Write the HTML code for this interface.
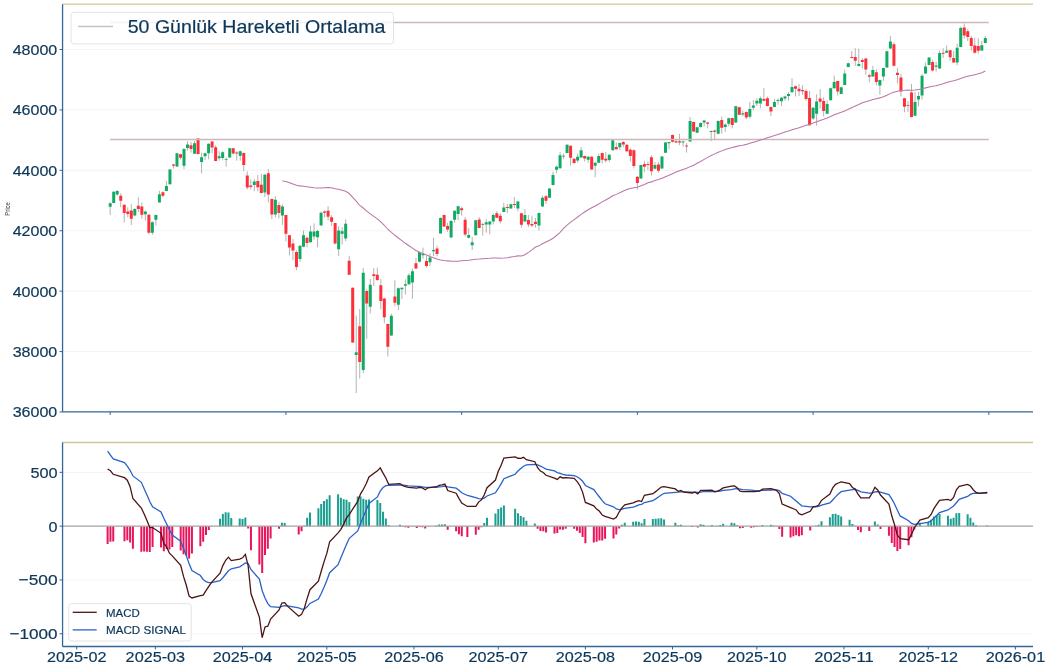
<!DOCTYPE html><html><head><meta charset="utf-8"><style>html,body{margin:0;padding:0;background:#fff;}svg{display:block;will-change:transform;}text{font-family:"Liberation Sans",sans-serif;stroke:#0d3759;stroke-width:0.2px;}</style></head><body>
<svg width="1050" height="669" viewBox="0 0 1050 669">
<rect x="0" y="0" width="1050" height="669" fill="#fff"/>
<line x1="62.56" x2="1033.0" y1="351.55" y2="351.55" stroke="#f0f0f0" stroke-width="0.8"/>
<line x1="62.56" x2="1033.0" y1="291.14" y2="291.14" stroke="#f0f0f0" stroke-width="0.8"/>
<line x1="62.56" x2="1033.0" y1="230.73" y2="230.73" stroke="#f0f0f0" stroke-width="0.8"/>
<line x1="62.56" x2="1033.0" y1="170.32" y2="170.32" stroke="#f0f0f0" stroke-width="0.8"/>
<line x1="62.56" x2="1033.0" y1="109.91" y2="109.91" stroke="#f0f0f0" stroke-width="0.8"/>
<line x1="62.56" x2="1033.0" y1="49.50" y2="49.50" stroke="#f0f0f0" stroke-width="0.8"/>
<path d="M110.20 202.39V215.06M113.71 191.20V203.21M117.23 190.05V195.81M120.74 193.34V207.33M124.26 204.86V222.46M127.77 207.33V217.20M131.29 204.04V225.10M134.80 208.15V216.38M138.32 197.13V212.26M141.83 202.39V218.85M145.34 210.62V220.49M148.86 213.91V234.48M152.37 221.31V234.80M155.89 214.73V225.43M159.40 190.88V202.39M162.92 191.20V197.46M166.43 181.00V191.20M169.95 169.16V184.62M173.46 163.73V168.66M176.98 153.03V167.02M180.49 153.86V159.62M184.00 148.10V169.16M187.52 141.15V150.57M191.03 141.82V152.59M194.55 140.88V153.94M198.06 138.06V154.34M201.58 152.59V173.45M205.09 152.59V159.99M208.61 143.57V159.32M212.12 141.15V153.26M215.63 145.19V161.34M219.15 151.24V160.67M222.66 151.24V160.26M226.18 157.30V166.72M229.69 147.61V157.97M233.21 147.61V154.61M236.72 151.24V160.67M240.24 150.57V160.67M243.75 152.59V171.43M247.27 171.43V189.60M250.78 179.51V189.60M254.29 178.97V191.29M257.81 174.86V191.29M261.32 174.04V193.26M264.84 174.04V197.04M268.35 169.11V202.46M271.87 198.68V219.22M275.38 196.22V217.58M278.90 201.97V218.40M282.41 204.43V224.97M285.93 215.12V241.40M289.44 234.83V255.37M292.95 238.94V260.30M296.47 250.44V270.16M299.98 245.51V261.94M303.50 230.40V247.16M307.01 236.48V247.16M310.53 225.80V242.56M314.04 223.33V239.76M317.56 229.90V247.16M321.07 211.50V225.47M324.58 210.19V217.25M328.10 206.24V220.54M331.61 215.12V225.96M335.13 223.00V244.36M338.64 226.29V255.87M342.16 227.11V244.36M345.67 219.39V241.08M349.19 255.87V274.76M352.70 287.43V342.87M356.21 315.67V393.08M359.73 308.97V378.43M363.24 267.97V373.20M366.76 289.52V338.68M370.27 279.06V313.58M373.79 267.97V285.96M377.30 267.55V281.15M380.82 279.06V309.39M384.33 297.89V322.99M387.85 323.62V356.46M391.36 313.58V336.17M394.87 280.26V306.29M398.39 287.44V309.88M401.90 287.44V299.11M405.42 279.37V294.62M408.93 273.08V284.75M412.45 268.60V298.75M415.96 257.83V268.95M419.48 251.54V262.31M422.99 247.59V258.72M426.50 256.03V267.70M430.02 253.34V265.90M433.53 237.72V256.03M437.05 245.62V256.39M440.56 217.44V233.59M444.08 214.75V226.95M447.59 222.82V231.80M451.11 220.13V237.72M454.62 210.33V222.88M458.14 205.62V220.26M461.65 206.67V215.56M465.16 217.12V236.47M468.68 228.10V238.56M472.19 236.99V249.96M475.71 219.74V235.42M479.22 217.12V228.31M482.74 222.88V235.42M486.25 219.22V232.81M489.77 221.31V234.38M493.28 213.46V224.44M496.79 211.16V218.17M500.31 213.25V223.40M503.82 202.80V212.21M507.34 203.84V213.25M510.85 203.53V208.76M514.37 196.94V208.03M517.88 200.92V211.37M521.40 212.94V227.58M524.91 209.02V221.73M528.43 215.00V226.96M531.94 215.75V226.96M535.45 217.99V227.71M538.97 212.76V230.70M542.48 195.56V206.78M546.00 194.81V203.79M549.51 188.08V198.10M553.03 171.64V185.54M556.54 165.65V173.13M560.06 152.20V168.64M563.57 153.69V158.93M567.09 144.27V153.24M570.60 145.47V165.65M574.11 158.18V163.71M577.63 153.69V162.66M581.14 146.96V157.73M584.66 155.64V161.62M588.17 155.93V162.66M591.69 155.93V169.69M595.20 161.92V177.17M598.72 153.69V163.41M602.23 152.65V163.40M605.74 151.97V162.73M609.26 154.26V162.06M612.77 139.87V150.63M616.29 142.56V149.69M619.80 142.56V150.23M623.32 141.22V147.27M626.83 143.91V152.38M630.35 148.34V161.39M633.86 149.29V168.51M637.38 176.18V189.62M640.89 164.75V178.87M644.40 160.71V172.14M647.92 161.39V170.13M651.43 155.34V175.50M654.95 162.06V169.45M658.46 162.06V172.55M661.98 156.01V168.78M665.49 141.89V152.92M669.01 142.10V149.20M672.52 134.50V142.50M676.03 139.20V142.90M679.55 133.80V145.20M683.06 140.50V146.60M686.58 143.20V152.60M690.09 117.00V141.80M693.61 121.60V131.80M697.12 127.00V133.10M700.64 122.40V127.70M704.15 119.70V126.40M707.67 121.70V128.40M711.18 130.40V141.20M714.69 129.70V139.20M718.21 120.30V134.50M721.72 116.60V133.80M725.24 123.70V131.80M728.75 117.60V126.40M732.27 117.60V128.40M735.78 105.80V122.80M739.30 106.60V115.00M742.81 110.80V116.20M746.32 111.40V119.20M749.84 101.90V118.60M753.35 100.00V110.20M756.87 98.30V106.00M760.38 96.50V108.40M763.90 88.10V101.30M767.41 96.50V106.60M770.93 106.60V116.20M774.44 98.90V107.20M777.96 98.30V104.80M781.47 97.10V106.00M784.98 95.60V100.70M788.50 92.00V100.70M792.01 78.20V92.50M795.53 85.70V96.50M799.04 83.90V95.90M802.56 85.10V94.70M806.07 89.30V100.70M809.59 91.10V125.50M813.10 107.00V119.70M816.61 94.30V125.70M820.13 89.10V108.50M823.64 97.30V116.40M827.16 100.30V114.00M830.67 87.60V100.60M834.19 75.60V88.60M837.70 80.80V95.50M841.22 86.50V94.30M844.73 69.60V85.30M848.25 62.60V67.40M851.76 50.90V58.40M855.27 48.20V65.90M858.79 48.70V66.60M862.30 58.10V68.60M865.82 58.10V74.90M869.33 73.70V82.30M872.85 65.90V76.70M876.36 69.20V85.30M879.88 79.60V94.60M883.39 67.50V80.80M886.90 50.90V67.90M890.42 35.90V48.90M893.93 42.20V66.60M897.45 68.10V83.50M900.96 73.60V96.50M904.48 97.80V112.20M907.99 100.90V112.20M911.51 83.90V117.50M915.02 92.40V116.00M918.54 92.00V106.30M922.05 74.00V99.60M925.56 62.60V73.90M929.08 57.30V65.40M932.59 59.60V71.50M936.11 61.60V71.50M939.62 50.40V68.90M943.14 48.20V58.00M946.65 45.50V53.00M950.17 49.90V60.70M953.68 50.90V63.00M957.19 43.70V65.20M960.71 26.70V47.20M964.22 23.50V38.80M967.74 28.90V41.00M971.25 36.00V50.60M974.77 37.80V53.30M978.28 38.20V53.70M981.80 40.70V50.90M985.31 35.80V43.40" stroke="#b3b3b3" stroke-width="1" fill="none"/>
<path d="M108.70 203.21h3v3.62h-3zM112.21 191.70h3v11.19h-3zM115.73 190.88h3v3.62h-3zM133.30 208.97h3v6.58h-3zM143.84 211.44h3v2.80h-3zM150.87 222.14h3v10.69h-3zM154.39 215.06h3v4.61h-3zM157.90 194.17h3v8.23h-3zM164.93 185.94h3v4.94h-3zM168.45 169.49h3v14.81h-3zM175.48 153.36h3v13.16h-3zM182.50 148.92h3v16.95h-3zM186.02 144.52h3v3.36h-3zM193.05 143.17h3v10.50h-3zM200.08 157.30h3v4.71h-3zM203.59 153.26h3v2.96h-3zM207.11 143.84h3v9.42h-3zM217.65 156.22h3v2.15h-3zM221.16 152.19h3v5.79h-3zM224.68 158.92h3v0.90h-3zM228.19 148.15h3v9.42h-3zM238.74 151.24h3v4.44h-3zM252.79 181.43h3v3.61h-3zM263.34 174.86h3v17.75h-3zM273.88 199.83h3v14.79h-3zM280.91 206.41h3v9.20h-3zM298.48 245.84h3v13.14h-3zM302.00 235.33h3v11.34h-3zM309.03 231.55h3v10.68h-3zM312.54 231.55h3v4.93h-3zM316.06 231.05h3v6.24h-3zM319.57 212.82h3v12.65h-3zM337.14 230.40h3v18.90h-3zM340.66 231.22h3v2.46h-3zM344.17 223.83h3v14.79h-3zM354.71 352.28h3v2.72h-3zM361.74 272.78h3v97.28h-3zM368.77 284.71h3v21.97h-3zM389.86 315.67h3v19.87h-3zM396.89 288.34h3v16.51h-3zM400.40 287.80h3v1.44h-3zM403.92 284.21h3v1.44h-3zM407.43 275.24h3v8.98h-3zM410.95 271.29h3v11.13h-3zM417.98 252.08h3v9.69h-3zM421.49 253.88h3v1.26h-3zM428.52 257.47h3v4.85h-3zM432.03 250.11h3v1.08h-3zM439.06 217.98h3v15.62h-3zM449.61 221.03h3v16.51h-3zM453.12 210.85h3v8.89h-3zM456.64 206.35h3v7.63h-3zM467.18 234.90h3v2.82h-3zM470.69 242.22h3v3.14h-3zM474.21 220.26h3v14.95h-3zM481.24 224.13h3v0.90h-3zM484.75 222.35h3v2.09h-3zM488.27 221.62h3v2.82h-3zM491.78 215.03h3v6.59h-3zM502.32 207.40h3v4.50h-3zM509.35 204.26h3v4.18h-3zM516.38 201.44h3v7.01h-3zM523.41 215.00h3v6.43h-3zM537.47 213.06h3v12.41h-3zM540.98 197.80h3v8.67h-3zM548.01 188.38h3v9.42h-3zM551.53 175.07h3v10.02h-3zM555.04 166.85h3v2.84h-3zM558.56 155.19h3v13.01h-3zM562.07 155.64h3v0.90h-3zM565.59 144.72h3v8.22h-3zM576.13 156.68h3v3.74h-3zM579.64 150.25h3v7.18h-3zM586.67 156.68h3v2.99h-3zM593.70 162.66h3v2.99h-3zM597.22 155.93h3v6.73h-3zM607.76 154.66h3v5.38h-3zM611.27 140.28h3v9.95h-3zM618.30 142.97h3v4.30h-3zM639.39 165.02h3v13.45h-3zM653.45 165.02h3v3.76h-3zM660.48 156.41h3v12.10h-3zM663.99 142.56h3v10.08h-3zM667.51 142.10h3v1.10h-3zM681.56 141.60h3v0.90h-3zM688.59 121.00h3v20.60h-3zM695.62 127.30h3v5.40h-3zM699.14 123.00h3v4.10h-3zM702.65 120.60h3v1.80h-3zM709.68 131.10h3v0.90h-3zM716.71 121.00h3v12.80h-3zM723.74 124.40h3v2.70h-3zM727.25 118.30h3v5.40h-3zM734.28 106.20h3v16.30h-3zM741.31 113.20h3v1.20h-3zM748.34 109.00h3v7.80h-3zM751.85 105.40h3v2.40h-3zM755.37 100.70h3v2.90h-3zM758.88 98.30h3v5.30h-3zM772.94 102.10h3v4.80h-3zM776.46 100.00h3v0.90h-3zM779.97 97.70h3v3.60h-3zM783.48 96.50h3v2.00h-3zM787.00 94.10h3v1.80h-3zM790.51 86.90h3v5.40h-3zM811.60 107.80h3v10.70h-3zM815.11 101.50h3v12.20h-3zM825.66 104.00h3v9.70h-3zM829.17 88.30h3v12.00h-3zM832.69 82.00h3v6.30h-3zM839.72 87.30h3v6.70h-3zM843.23 73.40h3v11.60h-3zM846.75 63.20h3v3.90h-3zM857.29 64.10h3v1.80h-3zM871.35 70.10h3v6.30h-3zM878.38 80.10h3v5.50h-3zM881.89 68.10h3v8.50h-3zM885.40 51.20h3v16.40h-3zM888.92 41.60h3v7.00h-3zM913.52 102.10h3v13.60h-3zM917.04 96.00h3v3.60h-3zM920.55 75.80h3v19.80h-3zM924.06 66.60h3v7.00h-3zM927.58 57.60h3v7.50h-3zM934.61 65.40h3v1.40h-3zM938.12 53.10h3v15.50h-3zM945.15 50.70h3v2.00h-3zM955.69 47.70h3v14.70h-3zM959.21 28.00h3v18.90h-3zM980.30 45.20h3v5.40h-3zM983.81 38.00h3v4.90h-3z" fill="#10ab62"/>
<path d="M119.24 195.81h3v4.94h-3zM122.76 204.86h3v8.23h-3zM126.27 211.44h3v2.47h-3zM129.79 210.62h3v8.23h-3zM136.82 205.68h3v3.29h-3zM140.33 206.51h3v8.23h-3zM147.36 214.73h3v18.10h-3zM161.42 192.19h3v3.62h-3zM171.96 164.55h3v1.32h-3zM178.99 154.35h3v3.29h-3zM189.53 145.19h3v3.77h-3zM196.56 138.46h3v15.48h-3zM210.62 141.55h3v6.06h-3zM214.13 147.21h3v13.86h-3zM231.71 148.28h3v5.25h-3zM235.22 152.59h3v0.94h-3zM242.25 152.99h3v11.98h-3zM245.77 175.47h3v12.11h-3zM249.28 185.57h3v1.35h-3zM256.31 181.10h3v6.08h-3zM259.82 184.72h3v8.22h-3zM266.85 173.22h3v21.36h-3zM270.37 199.01h3v15.61h-3zM277.40 204.93h3v8.05h-3zM284.43 215.12h3v18.57h-3zM287.94 235.33h3v12.16h-3zM291.45 243.54h3v6.90h-3zM294.97 252.09h3v14.79h-3zM305.51 237.63h3v5.42h-3zM323.08 211.50h3v1.31h-3zM326.60 210.68h3v6.08h-3zM330.11 217.25h3v4.44h-3zM333.63 223.00h3v20.54h-3zM347.69 260.80h3v13.97h-3zM351.20 287.85h3v54.60h-3zM358.23 326.13h3v35.98h-3zM365.26 290.98h3v12.55h-3zM372.29 274.25h3v1.67h-3zM375.80 274.87h3v5.23h-3zM379.32 285.33h3v15.69h-3zM382.83 298.51h3v18.83h-3zM386.35 324.04h3v22.59h-3zM393.37 296.42h3v6.28h-3zM414.46 263.21h3v5.39h-3zM425.00 261.06h3v4.85h-3zM435.55 248.49h3v5.39h-3zM442.58 215.10h3v11.31h-3zM446.09 226.05h3v3.41h-3zM460.15 208.24h3v2.09h-3zM463.66 219.74h3v14.85h-3zM477.72 219.53h3v8.37h-3zM495.29 213.25h3v4.39h-3zM498.81 215.76h3v5.54h-3zM505.84 206.98h3v0.90h-3zM512.87 204.05h3v0.90h-3zM519.90 213.25h3v11.50h-3zM526.93 219.93h3v4.49h-3zM530.44 223.97h3v1.50h-3zM533.95 221.73h3v2.24h-3zM544.50 196.31h3v4.49h-3zM569.10 145.77h3v11.96h-3zM572.61 158.63h3v4.49h-3zM583.16 155.93h3v2.69h-3zM590.19 156.68h3v12.71h-3zM600.73 152.92h3v6.72h-3zM604.24 158.70h3v1.75h-3zM614.79 147.00h3v2.29h-3zM621.82 141.89h3v2.69h-3zM625.33 144.85h3v6.45h-3zM628.85 149.69h3v6.32h-3zM632.36 150.23h3v15.87h-3zM635.88 176.85h3v6.05h-3zM642.90 164.08h3v2.69h-3zM646.42 164.08h3v0.90h-3zM649.93 157.35h3v13.85h-3zM656.96 164.48h3v6.32h-3zM671.02 135.10h3v6.70h-3zM674.53 141.20h3v1.30h-3zM678.05 141.20h3v1.30h-3zM685.08 145.60h3v1.00h-3zM692.11 122.00h3v9.40h-3zM706.17 122.40h3v1.30h-3zM713.19 130.40h3v1.40h-3zM720.22 120.10h3v7.60h-3zM730.77 117.90h3v7.10h-3zM737.80 107.20h3v7.60h-3zM744.82 112.00h3v5.40h-3zM762.40 98.90h3v1.80h-3zM765.91 98.30h3v7.70h-3zM769.43 106.90h3v4.50h-3zM794.03 86.30h3v2.40h-3zM797.54 88.70h3v2.60h-3zM801.06 89.90h3v1.40h-3zM804.57 90.90h3v8.00h-3zM808.09 98.00h3v27.20h-3zM818.63 98.50h3v3.30h-3zM822.14 101.00h3v10.00h-3zM836.20 81.10h3v10.50h-3zM850.26 56.90h3v1.20h-3zM853.77 56.90h3v3.80h-3zM860.80 59.90h3v2.20h-3zM864.32 58.40h3v11.20h-3zM867.83 75.20h3v1.50h-3zM874.86 72.20h3v9.80h-3zM892.43 44.20h3v21.60h-3zM895.95 72.70h3v2.20h-3zM899.46 77.40h3v14.10h-3zM902.98 98.30h3v8.50h-3zM906.49 105.20h3v0.90h-3zM910.01 92.40h3v24.70h-3zM931.09 62.10h3v8.50h-3zM941.64 52.70h3v1.00h-3zM948.67 50.20h3v7.00h-3zM952.18 57.90h3v4.60h-3zM962.72 27.60h3v8.00h-3zM966.24 31.20h3v5.80h-3zM969.75 38.00h3v7.90h-3zM973.27 45.40h3v7.40h-3zM976.78 46.10h3v4.70h-3z" fill="#fd2f38"/>
<line x1="110.2" x2="988.8" y1="22.4" y2="22.4" stroke="#ccb8b9" stroke-width="1.5"/>
<line x1="110.2" x2="988.8" y1="139.6" y2="139.6" stroke="#ccb8b9" stroke-width="1.5"/>
<polyline points="282.41,180.99 285.93,181.60 289.44,182.71 292.95,183.91 296.47,185.23 299.98,185.88 303.50,186.31 307.01,186.80 310.53,187.25 314.04,187.70 317.56,188.03 321.07,188.05 324.58,187.65 328.10,187.54 331.61,187.68 335.13,188.66 338.64,189.36 342.16,190.26 345.67,191.35 349.19,193.53 352.70,197.31 356.21,201.20 359.73,205.47 363.24,208.03 366.76,211.12 370.27,213.95 373.79,216.39 377.30,218.85 380.82,221.80 384.33,225.27 387.85,229.25 391.36,232.35 394.87,235.28 398.39,238.00 401.90,240.58 405.42,243.30 408.93,245.73 412.45,248.09 415.96,250.43 419.48,252.18 422.99,253.50 426.50,255.08 430.02,256.60 433.53,257.86 437.05,259.08 440.56,259.94 444.08,260.58 447.59,260.88 451.11,261.30 454.62,261.26 458.14,261.26 461.65,260.79 465.16,260.53 468.68,260.22 472.19,259.73 475.71,259.22 479.22,259.07 482.74,258.69 486.25,258.50 489.77,258.31 493.28,257.99 496.79,258.08 500.31,258.25 503.82,258.07 507.34,257.79 510.85,257.00 514.37,256.49 517.88,255.90 521.40,255.91 524.91,254.72 528.43,252.36 531.94,249.82 535.45,247.06 538.97,245.87 542.48,243.75 546.00,242.07 549.51,240.32 553.03,238.22 556.54,235.54 560.06,232.29 563.57,228.47 567.09,225.06 570.60,222.16 574.11,219.65 577.63,217.03 581.14,214.35 584.66,212.02 588.17,209.73 591.69,207.74 595.20,205.95 598.72,203.99 602.23,201.87 605.74,199.93 609.26,198.02 612.77,195.75 616.29,194.37 619.80,192.71 623.32,191.01 626.83,189.61 630.35,188.52 633.86,187.71 637.38,187.16 640.89,185.77 644.40,184.41 647.92,182.86 651.43,181.88 654.95,180.62 658.46,179.55 661.98,178.23 665.49,176.65 669.01,175.19 672.52,173.68 676.03,172.10 679.55,170.80 683.06,169.48 686.58,168.33 690.09,166.65 693.61,165.25 697.12,163.30 700.64,161.46 704.15,159.38 707.67,157.35 711.18,155.49 714.69,153.86 718.21,152.33 721.72,150.87 725.24,149.59 728.75,148.45 732.27,147.61 735.78,146.63 739.30,145.82 742.81,145.19 746.32,144.38 749.84,143.30 753.35,142.27 756.87,141.28 760.38,140.08 763.90,138.96 767.41,137.69 770.93,136.66 774.44,135.59 777.96,134.39 781.47,133.14 784.98,131.97 788.50,131.05 792.01,129.80 795.53,128.72 799.04,127.65 802.56,126.45 806.07,125.31 809.59,124.49 813.10,122.99 816.61,121.72 820.13,120.42 823.64,119.35 827.16,118.00 830.67,116.47 834.19,114.69 837.70,113.40 841.22,112.29 844.73,110.92 848.25,109.34 851.76,107.66 855.27,106.02 858.79,104.47 862.30,102.78 865.82,101.75 869.33,100.66 872.85,99.51 876.36,98.69 879.88,97.88 883.39,96.77 886.90,95.17 890.42,93.37 893.93,92.27 897.45,91.21 900.96,90.55 904.48,90.32 907.99,89.94 911.51,90.15 915.02,89.90 918.54,89.56 922.05,88.72 925.56,87.88 929.08,86.92 932.59,86.32 936.11,85.66 939.62,84.71 943.14,83.66 946.65,82.45 950.17,81.55 953.68,80.80 957.19,79.80 960.71,78.43 964.22,77.26 967.74,76.26 971.25,75.41 974.77,74.64 978.28,73.83 981.80,72.75 985.31,71.01" fill="none" stroke="#bb76a7" stroke-width="1.05"/>
<rect x="71" y="12.3" width="322.5" height="31.6" rx="3" ry="3" fill="#fff" fill-opacity="0.8" stroke="#dcdcdc" stroke-width="0.8"/>
<line x1="78.1" x2="113" y1="26.5" y2="26.5" stroke="#c4c4c4" stroke-width="1.5"/>
<text x="127.7" y="33.2" font-size="18.6" fill="#0d3759" textLength="257.8" lengthAdjust="spacingAndGlyphs">50 Günlük Hareketli Ortalama</text>
<line x1="62.56" x2="1033.0" y1="4.2" y2="4.2" stroke="#d3c597" stroke-width="1.3"/>
<line x1="62.56" x2="62.56" y1="4.2" y2="411.96" stroke="#33669a" stroke-width="1.3"/>
<line x1="62.56" x2="1033.0" y1="411.96" y2="411.96" stroke="#33669a" stroke-width="1.3"/>
<line x1="59.56" x2="62.56" y1="411.96" y2="411.96" stroke="#33669a" stroke-width="1"/>
<text x="57.3" y="417.46" font-size="15.4" fill="#0d3759" text-anchor="end" textLength="44.6" lengthAdjust="spacingAndGlyphs">36000</text>
<line x1="59.56" x2="62.56" y1="351.55" y2="351.55" stroke="#33669a" stroke-width="1"/>
<text x="57.3" y="357.05" font-size="15.4" fill="#0d3759" text-anchor="end" textLength="44.6" lengthAdjust="spacingAndGlyphs">38000</text>
<line x1="59.56" x2="62.56" y1="291.14" y2="291.14" stroke="#33669a" stroke-width="1"/>
<text x="57.3" y="296.64" font-size="15.4" fill="#0d3759" text-anchor="end" textLength="44.6" lengthAdjust="spacingAndGlyphs">40000</text>
<line x1="59.56" x2="62.56" y1="230.73" y2="230.73" stroke="#33669a" stroke-width="1"/>
<text x="57.3" y="236.23" font-size="15.4" fill="#0d3759" text-anchor="end" textLength="44.6" lengthAdjust="spacingAndGlyphs">42000</text>
<line x1="59.56" x2="62.56" y1="170.32" y2="170.32" stroke="#33669a" stroke-width="1"/>
<text x="57.3" y="175.82" font-size="15.4" fill="#0d3759" text-anchor="end" textLength="44.6" lengthAdjust="spacingAndGlyphs">44000</text>
<line x1="59.56" x2="62.56" y1="109.91" y2="109.91" stroke="#33669a" stroke-width="1"/>
<text x="57.3" y="115.41" font-size="15.4" fill="#0d3759" text-anchor="end" textLength="44.6" lengthAdjust="spacingAndGlyphs">46000</text>
<line x1="59.56" x2="62.56" y1="49.50" y2="49.50" stroke="#33669a" stroke-width="1"/>
<text x="57.3" y="55.00" font-size="15.4" fill="#0d3759" text-anchor="end" textLength="44.6" lengthAdjust="spacingAndGlyphs">48000</text>
<line x1="110.20" x2="110.20" y1="411.96" y2="414.96" stroke="#33669a" stroke-width="1"/>
<line x1="285.93" x2="285.93" y1="411.96" y2="414.96" stroke="#33669a" stroke-width="1"/>
<line x1="461.65" x2="461.65" y1="411.96" y2="414.96" stroke="#33669a" stroke-width="1"/>
<line x1="637.38" x2="637.38" y1="411.96" y2="414.96" stroke="#33669a" stroke-width="1"/>
<line x1="813.10" x2="813.10" y1="411.96" y2="414.96" stroke="#33669a" stroke-width="1"/>
<line x1="988.83" x2="988.83" y1="411.96" y2="414.96" stroke="#33669a" stroke-width="1"/>
<text transform="translate(9.9,208.9) rotate(-90)" font-size="7.4" fill="#333" style="stroke:none" text-anchor="middle" textLength="13.7" lengthAdjust="spacingAndGlyphs">Price</text>
<line x1="62.56" x2="1033.0" y1="472.35" y2="472.35" stroke="#f0f0f0" stroke-width="0.8"/>
<line x1="62.56" x2="1033.0" y1="579.95" y2="579.95" stroke="#f0f0f0" stroke-width="0.8"/>
<line x1="62.56" x2="1033.0" y1="633.75" y2="633.75" stroke="#f0f0f0" stroke-width="0.8"/>
<path d="M210.60 525.88H212.60V526.15H210.60zM219.04 518.69H221.04V526.15H219.04zM221.85 514.08H223.85V526.15H221.85zM224.66 512.25H226.66V526.15H224.66zM227.47 512.51H229.47V526.15H227.47zM230.28 517.95H232.28V526.15H230.28zM238.71 518.42H240.71V526.15H238.71zM241.52 518.93H243.52V526.15H241.52zM244.33 517.59H246.33V526.15H244.33zM280.87 522.67H282.87V526.15H280.87zM283.68 523.09H285.68V526.15H283.68zM303.35 525.39H305.35V526.15H303.35zM306.16 517.67H308.16V526.15H306.16zM308.97 512.42H310.97V526.15H308.97zM317.40 508.32H319.40V526.15H317.40zM320.21 503.99H322.21V526.15H320.21zM323.02 500.92H325.02V526.15H323.02zM325.83 499.15H327.83V526.15H325.83zM328.65 495.21H330.65V526.15H328.65zM337.08 494.34H339.08V526.15H337.08zM339.89 497.85H341.89V526.15H339.89zM342.70 499.33H344.70V526.15H342.70zM345.51 499.76H347.51V526.15H345.51zM348.32 502.11H350.32V526.15H348.32zM356.75 496.57H358.75V526.15H356.75zM359.56 496.52H361.56V526.15H359.56zM362.37 498.76H364.37V526.15H362.37zM365.18 499.77H367.18V526.15H365.18zM367.99 499.62H369.99V526.15H367.99zM376.42 500.10H378.42V526.15H376.42zM379.23 502.93H381.23V526.15H379.23zM382.04 511.76H384.04V526.15H382.04zM384.86 518.47H386.86V526.15H384.86zM387.67 525.12H389.67V526.15H387.67zM398.91 524.72H400.91V526.15H398.91zM435.44 525.57H437.44V526.15H435.44zM438.25 524.58H440.25V526.15H438.25zM441.06 524.54H443.06V526.15H441.06zM443.88 524.18H445.88V526.15H443.88zM483.22 523.06H485.22V526.15H483.22zM486.03 517.84H488.03V526.15H486.03zM494.46 513.41H496.46V526.15H494.46zM497.28 508.95H499.28V526.15H497.28zM500.09 507.51H502.09V526.15H500.09zM502.90 505.48H504.90V526.15H502.90zM514.14 508.69H516.14V526.15H514.14zM516.95 513.31H518.95V526.15H516.95zM519.76 515.92H521.76V526.15H519.76zM522.57 517.15H524.57V526.15H522.57zM525.38 520.85H527.38V526.15H525.38zM533.81 523.56H535.81V526.15H533.81zM620.94 524.84H622.94V526.15H620.94zM623.75 522.63H625.75V526.15H623.75zM632.18 521.75H634.18V526.15H632.18zM634.99 521.60H636.99V526.15H634.99zM637.80 521.73H639.80V526.15H637.80zM640.61 523.37H642.61V526.15H640.61zM643.42 518.92H645.42V526.15H643.42zM651.85 519.09H653.85V526.15H651.85zM654.66 518.87H656.66V526.15H654.66zM657.47 518.38H659.47V526.15H657.47zM660.28 518.20H662.28V526.15H660.28zM663.09 519.50H665.09V526.15H663.09zM674.34 522.64H676.34V526.15H674.34zM677.15 525.26H679.15V526.15H677.15zM679.96 524.80H681.96V526.15H679.96zM699.63 524.37H701.63V526.15H699.63zM702.44 524.72H704.44V526.15H702.44zM710.87 524.97H712.87V526.15H710.87zM716.49 525.78H718.49V526.15H716.49zM719.30 524.88H721.30V526.15H719.30zM722.12 523.63H724.12V526.15H722.12zM730.55 522.75H732.55V526.15H730.55zM733.36 523.26H735.36V526.15H733.36zM736.17 525.28H738.17V526.15H736.17zM761.46 524.95H763.46V526.15H761.46zM769.89 524.73H771.89V526.15H769.89zM772.70 525.59H774.70V526.15H772.70zM814.86 525.82H816.86V526.15H814.86zM817.67 524.80H819.67V526.15H817.67zM820.48 521.25H822.48V526.15H820.48zM828.91 517.15H830.91V526.15H828.91zM831.72 514.11H833.72V526.15H831.72zM834.54 513.66H836.54V526.15H834.54zM837.35 515.07H839.35V526.15H837.35zM840.16 516.38H842.16V526.15H840.16zM848.59 519.73H850.59V526.15H848.59zM851.40 524.11H853.40V526.15H851.40zM854.21 525.79H856.21V526.15H854.21zM873.88 521.50H875.88V526.15H873.88zM876.69 524.56H878.69V526.15H876.69zM918.85 522.74H920.85V526.15H918.85zM927.28 521.52H929.28V526.15H927.28zM930.09 519.85H932.09V526.15H930.09zM932.90 516.39H934.90V526.15H932.90zM935.71 514.94H937.71V526.15H935.71zM938.52 514.03H940.52V526.15H938.52zM946.96 515.70H948.96V526.15H946.96zM949.77 518.65H951.77V526.15H949.77zM952.58 517.69H954.58V526.15H952.58zM955.39 513.24H957.39V526.15H955.39zM958.20 513.06H960.20V526.15H958.20zM966.63 514.20H968.63V526.15H966.63zM969.44 517.84H971.44V526.15H969.44zM972.25 522.41H974.25V526.15H972.25zM975.06 525.32H977.06V526.15H975.06zM986.30 525.43H988.30V526.15H986.30z" fill="#1a9e8f"/>
<path d="M106.62 526.15H108.62V543.97H106.62zM109.43 526.15H111.43V541.83H109.43zM112.24 526.15H114.24V541.54H112.24zM123.48 526.15H125.48V541.17H123.48zM126.29 526.15H128.29V540.21H126.29zM129.10 526.15H131.10V542.53H129.10zM131.91 526.15H133.91V548.78H131.91zM140.34 526.15H142.34V551.82H140.34zM143.15 526.15H145.15V551.53H143.15zM145.96 526.15H147.96V551.67H145.96zM148.77 526.15H150.77V552.01H148.77zM151.58 526.15H153.58V546.98H151.58zM160.02 526.15H162.02V547.40H160.02zM162.83 526.15H164.83V551.23H162.83zM165.64 526.15H167.64V549.03H165.64zM168.45 526.15H170.45V549.45H168.45zM171.26 526.15H173.26V546.97H171.26zM179.69 526.15H181.69V550.45H179.69zM182.50 526.15H184.50V554.35H182.50zM185.31 526.15H187.31V555.79H185.31zM188.12 526.15H190.12V558.61H188.12zM190.93 526.15H192.93V553.55H190.93zM199.36 526.15H201.36V546.14H199.36zM202.17 526.15H204.17V541.76H202.17zM204.98 526.15H206.98V535.09H204.98zM207.79 526.15H209.79V529.94H207.79zM247.14 526.15H249.14V528.45H247.14zM249.95 526.15H251.95V550.18H249.95zM258.38 526.15H260.38V564.38H258.38zM261.19 526.15H263.19V573.03H261.19zM264.00 526.15H266.00V555.10H264.00zM266.81 526.15H268.81V548.68H266.81zM269.62 526.15H271.62V538.49H269.62zM278.06 526.15H280.06V528.72H278.06zM286.49 526.15H288.49V526.50H286.49zM297.73 526.15H299.73V534.55H297.73zM300.54 526.15H302.54V531.37H300.54zM401.72 526.15H403.72V526.65H401.72zM404.53 526.15H406.53V527.35H404.53zM407.34 526.15H409.34V527.70H407.34zM415.77 526.15H417.77V528.03H415.77zM418.58 526.15H420.58V527.01H418.58zM421.39 526.15H423.39V527.28H421.39zM424.20 526.15H426.20V528.58H424.20zM427.01 526.15H429.01V526.46H427.01zM446.69 526.15H448.69V529.73H446.69zM455.12 526.15H457.12V531.15H455.12zM457.93 526.15H459.93V534.27H457.93zM460.74 526.15H462.74V536.37H460.74zM466.36 526.15H468.36V537.11H466.36zM474.79 526.15H476.79V534.80H474.79zM477.60 526.15H479.60V529.69H477.60zM480.41 526.15H482.41V527.23H480.41zM536.62 526.15H538.62V528.85H536.62zM539.43 526.15H541.43V531.05H539.43zM542.24 526.15H544.24V531.19H542.24zM545.05 526.15H547.05V532.39H545.05zM553.49 526.15H555.49V533.52H553.49zM556.30 526.15H558.30V533.03H556.30zM559.11 526.15H561.11V529.58H559.11zM561.92 526.15H563.92V529.77H561.92zM564.73 526.15H566.73V528.73H564.73zM573.16 526.15H575.16V528.78H573.16zM575.97 526.15H577.97V530.66H575.97zM578.78 526.15H580.78V533.12H578.78zM581.59 526.15H583.59V537.03H581.59zM584.40 526.15H586.40V543.14H584.40zM592.83 526.15H594.83V542.38H592.83zM595.64 526.15H597.64V541.78H595.64zM598.45 526.15H600.45V540.43H598.45zM601.26 526.15H603.26V540.57H601.26zM604.07 526.15H606.07V538.73H604.07zM612.51 526.15H614.51V538.43H612.51zM615.32 526.15H617.32V534.50H615.32zM618.13 526.15H620.13V528.62H618.13zM682.77 526.15H684.77V526.42H682.77zM691.20 526.15H693.20V526.98H691.20zM694.01 526.15H696.01V526.22H694.01zM696.82 526.15H698.82V527.56H696.82zM713.68 526.15H715.68V526.46H713.68zM738.98 526.15H740.98V528.16H738.98zM741.79 526.15H743.79V528.08H741.79zM750.22 526.15H752.22V527.79H750.22zM753.03 526.15H755.03V527.32H753.03zM755.84 526.15H757.84V527.02H755.84zM758.65 526.15H760.65V526.57H758.65zM775.51 526.15H777.51V526.49H775.51zM778.33 526.15H780.33V529.09H778.33zM781.14 526.15H783.14V536.87H781.14zM789.57 526.15H791.57V537.53H789.57zM792.38 526.15H794.38V536.18H792.38zM795.19 526.15H797.19V535.13H795.19zM798.00 526.15H800.00V536.32H798.00zM800.81 526.15H802.81V535.15H800.81zM809.24 526.15H811.24V530.56H809.24zM812.05 526.15H814.05V526.20H812.05zM857.02 526.15H859.02V529.91H857.02zM859.83 526.15H861.83V532.18H859.83zM868.26 526.15H870.26V530.88H868.26zM871.07 526.15H873.07V526.27H871.07zM879.50 526.15H881.50V528.95H879.50zM887.93 526.15H889.93V535.64H887.93zM890.75 526.15H892.75V543.10H890.75zM893.56 526.15H895.56V546.88H893.56zM896.37 526.15H898.37V550.96H896.37zM899.18 526.15H901.18V548.95H899.18zM907.61 526.15H909.61V545.20H907.61zM910.42 526.15H912.42V537.31H910.42zM913.23 526.15H915.23V529.72H913.23zM977.87 526.15H979.87V526.21H977.87z" fill="#e8145c"/>
<line x1="62.56" x2="1033.0" y1="526.15" y2="526.15" stroke="#a3a3a3" stroke-width="1.1"/>
<polyline points="107.62,451.13 110.43,455.05 113.24,458.89 124.48,462.65 127.29,466.16 130.10,470.26 132.91,475.92 141.34,482.34 144.15,488.68 146.96,495.06 149.77,501.52 152.58,506.73 161.02,512.04 163.83,518.31 166.64,524.03 169.45,529.86 172.26,535.06 180.69,541.14 183.50,548.19 186.31,555.60 189.12,563.71 191.93,570.56 200.36,575.56 203.17,579.46 205.98,581.70 208.79,582.64 211.60,582.58 220.04,580.71 222.85,577.70 225.66,574.22 228.47,570.81 231.28,568.76 239.71,566.83 242.52,565.03 245.33,562.89 248.14,563.46 250.95,569.47 259.38,579.03 262.19,590.75 265.00,597.98 267.81,603.61 270.62,606.70 279.06,607.34 281.87,606.47 284.68,605.71 287.49,605.79 298.73,607.89 301.54,609.20 304.35,609.01 307.16,606.89 309.97,603.45 318.40,599.00 321.21,593.46 324.02,587.15 326.83,580.40 329.65,572.66 338.08,564.71 340.89,557.64 343.70,550.93 346.51,544.33 349.32,538.32 357.75,530.93 360.56,523.52 363.37,516.67 366.18,510.08 368.99,503.44 377.42,496.93 380.23,491.12 383.04,487.53 385.86,485.61 388.67,485.35 399.91,484.99 402.72,485.12 405.53,485.42 408.34,485.80 416.77,486.28 419.58,486.49 422.39,486.77 425.20,487.38 428.01,487.46 436.44,487.32 439.25,486.92 442.06,486.52 444.88,486.03 447.69,486.92 456.12,488.17 458.93,490.20 461.74,492.76 467.36,495.50 475.79,497.66 478.60,498.55 481.41,498.82 484.22,498.04 487.03,495.97 495.46,492.78 498.28,488.48 501.09,483.82 503.90,478.66 515.14,474.29 517.95,471.08 520.76,468.52 523.57,466.27 526.38,464.95 534.81,464.30 537.62,464.97 540.43,466.20 543.24,467.46 546.05,469.02 554.49,470.86 557.30,472.58 560.11,473.44 562.92,474.34 565.73,474.99 574.16,475.64 576.97,476.77 579.78,478.51 582.59,481.23 585.40,485.48 593.83,489.54 596.64,493.45 599.45,497.02 602.26,500.62 605.07,503.76 613.51,506.83 616.32,508.92 619.13,509.54 621.94,509.21 624.75,508.33 633.18,507.23 635.99,506.10 638.80,504.99 641.61,504.30 644.42,502.49 652.85,500.72 655.66,498.90 658.47,496.96 661.28,494.97 664.09,493.31 675.34,492.43 678.15,492.21 680.96,491.87 683.77,491.94 692.20,492.15 695.01,492.17 697.82,492.52 700.63,492.07 703.44,491.72 711.87,491.42 714.68,491.50 717.49,491.41 720.30,491.09 723.12,490.46 731.55,489.61 734.36,488.89 737.17,488.67 739.98,489.17 742.79,489.66 751.22,490.07 754.03,490.36 756.84,490.58 759.65,490.68 762.46,490.38 770.89,490.02 773.70,489.88 776.51,489.97 779.33,490.70 782.14,493.38 790.57,496.23 793.38,498.74 796.19,500.98 799.00,503.53 801.81,505.78 810.24,506.88 813.05,506.89 815.86,506.81 818.67,506.47 821.48,505.24 829.91,502.99 832.72,499.98 835.54,496.86 838.35,494.09 841.16,491.65 849.59,490.04 852.40,489.53 855.21,489.44 858.02,490.38 860.83,491.89 869.26,493.07 872.07,493.10 874.88,491.94 877.69,491.54 880.50,492.24 888.93,494.62 891.75,498.85 894.56,504.04 897.37,510.24 900.18,515.94 908.61,520.70 911.42,523.49 914.23,524.39 919.85,523.53 928.28,522.38 931.09,520.80 933.90,518.36 936.71,515.56 939.52,512.53 947.96,509.92 950.77,508.04 953.58,505.92 956.39,502.70 959.20,499.42 967.63,496.44 970.44,494.36 973.25,493.43 976.06,493.22 978.87,493.23 987.30,493.05" fill="none" stroke="#2a62c9" stroke-width="1.3"/>
<polyline points="107.62,468.94 110.43,470.73 113.24,474.29 124.48,477.67 127.29,480.22 130.10,486.64 132.91,498.55 141.34,508.00 144.15,514.06 146.96,520.58 149.77,527.38 152.58,527.56 161.02,533.29 163.83,543.39 166.64,546.91 169.45,553.16 172.26,555.89 180.69,565.43 183.50,576.39 186.31,585.24 189.12,596.17 191.93,597.96 200.36,595.55 203.17,595.07 205.98,590.64 208.79,586.43 211.60,582.31 220.04,573.26 222.85,565.63 225.66,560.32 228.47,557.18 231.28,560.57 239.71,559.10 242.52,557.80 245.33,554.33 248.14,565.76 250.95,593.50 259.38,617.26 262.19,637.63 265.00,626.93 267.81,626.14 270.62,619.03 279.06,609.91 281.87,602.99 284.68,602.65 287.49,606.14 298.73,616.29 301.54,614.41 304.35,608.25 307.16,598.41 309.97,589.72 318.40,581.17 321.21,571.29 324.02,561.92 326.83,553.40 329.65,541.72 338.08,532.91 340.89,529.34 343.70,524.11 346.51,517.95 349.32,514.28 357.75,501.34 360.56,493.89 363.37,489.28 366.18,483.69 368.99,476.91 377.42,470.87 380.23,467.91 383.04,473.14 385.86,477.93 388.67,484.32 399.91,483.56 402.72,485.62 405.53,486.62 408.34,487.35 416.77,488.16 419.58,487.35 422.39,487.91 425.20,489.82 428.01,487.77 436.44,486.73 439.25,485.35 442.06,484.91 444.88,484.06 447.69,490.50 456.12,493.18 458.93,498.33 461.74,502.98 467.36,506.46 475.79,506.31 478.60,502.08 481.41,499.90 484.22,494.96 487.03,487.66 495.46,480.04 498.28,471.29 501.09,465.18 503.90,457.99 515.14,456.83 517.95,458.24 520.76,458.29 523.57,457.28 526.38,459.65 534.81,461.71 537.62,467.67 540.43,471.10 543.24,472.50 546.05,475.26 554.49,478.23 557.30,479.46 560.11,476.87 562.92,477.96 565.73,477.57 574.16,478.27 576.97,481.28 579.78,485.49 582.59,492.11 585.40,502.47 593.83,505.77 596.64,509.08 599.45,511.30 602.26,515.04 605.07,516.34 613.51,519.11 616.32,517.28 619.13,512.01 621.94,507.90 624.75,504.81 633.18,502.84 635.99,501.55 638.80,500.57 641.61,501.51 644.42,495.26 652.85,493.66 655.66,491.62 658.47,489.19 661.28,487.03 664.09,486.66 675.34,488.92 678.15,491.32 680.96,490.52 683.77,492.21 692.20,492.98 695.01,492.23 697.82,493.93 700.63,490.29 703.44,490.29 711.87,490.24 714.68,491.81 717.49,491.04 720.30,489.82 723.12,487.94 731.55,486.21 734.36,486.00 737.17,487.80 739.98,491.18 742.79,491.59 751.22,491.70 754.03,491.53 756.84,491.45 759.65,491.10 762.46,489.18 770.89,488.60 773.70,489.32 776.51,490.31 779.33,493.64 782.14,504.10 790.57,507.60 793.38,508.77 796.19,509.96 799.00,513.70 801.81,514.78 810.24,511.29 813.05,506.94 815.86,506.48 818.67,505.12 821.48,500.34 829.91,493.99 832.72,487.94 835.54,484.37 838.35,483.01 841.16,481.88 849.59,483.62 852.40,487.49 855.21,489.09 858.02,494.14 860.83,497.93 869.26,497.80 872.07,493.23 874.88,487.29 877.69,489.96 880.50,495.04 888.93,504.10 891.75,515.80 894.56,524.77 897.37,535.05 900.18,538.74 908.61,539.76 911.42,534.66 914.23,527.95 919.85,520.12 928.28,517.75 931.09,514.50 933.90,508.60 936.71,504.35 939.52,500.41 947.96,499.47 950.77,500.54 953.58,497.46 956.39,489.78 959.20,486.34 967.63,484.49 970.44,486.05 973.25,489.69 976.06,492.38 978.87,493.29 987.30,492.33" fill="none" stroke="#4d1414" stroke-width="1.3"/>
<rect x="68.7" y="603.7" width="122.6" height="37.3" rx="3" ry="3" fill="#fff" fill-opacity="0.8" stroke="#dcdcdc" stroke-width="0.8"/>
<line x1="72.7" x2="96.7" y1="612.3" y2="612.3" stroke="#4d1414" stroke-width="1.3"/>
<line x1="72.7" x2="96.7" y1="629.9" y2="629.9" stroke="#2a62c9" stroke-width="1.3"/>
<text x="106" y="616.8" font-size="11.6" fill="#0d3759" textLength="33.7" lengthAdjust="spacingAndGlyphs">MACD</text>
<text x="106" y="634.1" font-size="11.6" fill="#0d3759" textLength="80" lengthAdjust="spacingAndGlyphs">MACD SIGNAL</text>
<line x1="62.56" x2="1033.0" y1="442.5" y2="442.5" stroke="#d3c597" stroke-width="1.3"/>
<line x1="62.56" x2="62.56" y1="442.5" y2="646.5" stroke="#33669a" stroke-width="1.3"/>
<line x1="62.56" x2="1033.0" y1="646.5" y2="646.5" stroke="#33669a" stroke-width="1.3"/>
<line x1="59.56" x2="62.56" y1="472.35" y2="472.35" stroke="#33669a" stroke-width="1"/>
<text x="57.6" y="477.85" font-size="15.4" fill="#0d3759" text-anchor="end" textLength="27.2" lengthAdjust="spacingAndGlyphs">500</text>
<line x1="59.56" x2="62.56" y1="526.15" y2="526.15" stroke="#33669a" stroke-width="1"/>
<text x="57.6" y="531.65" font-size="15.4" fill="#0d3759" text-anchor="end" textLength="9.0" lengthAdjust="spacingAndGlyphs">0</text>
<line x1="59.56" x2="62.56" y1="579.95" y2="579.95" stroke="#33669a" stroke-width="1"/>
<text x="57.6" y="585.45" font-size="15.4" fill="#0d3759" text-anchor="end" textLength="39.0" lengthAdjust="spacingAndGlyphs">−500</text>
<line x1="59.56" x2="62.56" y1="633.75" y2="633.75" stroke="#33669a" stroke-width="1"/>
<text x="57.6" y="639.25" font-size="15.4" fill="#0d3759" text-anchor="end" textLength="48.0" lengthAdjust="spacingAndGlyphs">−1000</text>
<line x1="76.70" x2="76.70" y1="646.5" y2="649.5" stroke="#33669a" stroke-width="1"/>
<text x="76.70" y="662.0" font-size="15.5" fill="#0d3759" text-anchor="middle" textLength="59.5" lengthAdjust="spacingAndGlyphs">2025-02</text>
<line x1="155.39" x2="155.39" y1="646.5" y2="649.5" stroke="#33669a" stroke-width="1"/>
<text x="155.39" y="662.0" font-size="15.5" fill="#0d3759" text-anchor="middle" textLength="59.5" lengthAdjust="spacingAndGlyphs">2025-03</text>
<line x1="242.52" x2="242.52" y1="646.5" y2="649.5" stroke="#33669a" stroke-width="1"/>
<text x="242.52" y="662.0" font-size="15.5" fill="#0d3759" text-anchor="middle" textLength="59.5" lengthAdjust="spacingAndGlyphs">2025-04</text>
<line x1="326.83" x2="326.83" y1="646.5" y2="649.5" stroke="#33669a" stroke-width="1"/>
<text x="326.83" y="662.0" font-size="15.5" fill="#0d3759" text-anchor="middle" textLength="59.5" lengthAdjust="spacingAndGlyphs">2025-05</text>
<line x1="413.96" x2="413.96" y1="646.5" y2="649.5" stroke="#33669a" stroke-width="1"/>
<text x="413.96" y="662.0" font-size="15.5" fill="#0d3759" text-anchor="middle" textLength="59.5" lengthAdjust="spacingAndGlyphs">2025-06</text>
<line x1="498.28" x2="498.28" y1="646.5" y2="649.5" stroke="#33669a" stroke-width="1"/>
<text x="498.28" y="662.0" font-size="15.5" fill="#0d3759" text-anchor="middle" textLength="59.5" lengthAdjust="spacingAndGlyphs">2025-07</text>
<line x1="585.40" x2="585.40" y1="646.5" y2="649.5" stroke="#33669a" stroke-width="1"/>
<text x="585.40" y="662.0" font-size="15.5" fill="#0d3759" text-anchor="middle" textLength="59.5" lengthAdjust="spacingAndGlyphs">2025-08</text>
<line x1="672.53" x2="672.53" y1="646.5" y2="649.5" stroke="#33669a" stroke-width="1"/>
<text x="672.53" y="662.0" font-size="15.5" fill="#0d3759" text-anchor="middle" textLength="59.5" lengthAdjust="spacingAndGlyphs">2025-09</text>
<line x1="756.84" x2="756.84" y1="646.5" y2="649.5" stroke="#33669a" stroke-width="1"/>
<text x="756.84" y="662.0" font-size="15.5" fill="#0d3759" text-anchor="middle" textLength="59.5" lengthAdjust="spacingAndGlyphs">2025-10</text>
<line x1="843.97" x2="843.97" y1="646.5" y2="649.5" stroke="#33669a" stroke-width="1"/>
<text x="843.97" y="662.0" font-size="15.5" fill="#0d3759" text-anchor="middle" textLength="59.5" lengthAdjust="spacingAndGlyphs">2025-11</text>
<line x1="928.28" x2="928.28" y1="646.5" y2="649.5" stroke="#33669a" stroke-width="1"/>
<text x="928.28" y="662.0" font-size="15.5" fill="#0d3759" text-anchor="middle" textLength="59.5" lengthAdjust="spacingAndGlyphs">2025-12</text>
<line x1="1015.41" x2="1015.41" y1="646.5" y2="649.5" stroke="#33669a" stroke-width="1"/>
<text x="1015.41" y="662.0" font-size="15.5" fill="#0d3759" text-anchor="middle" textLength="59.5" lengthAdjust="spacingAndGlyphs">2026-01</text>
</svg></body></html>
